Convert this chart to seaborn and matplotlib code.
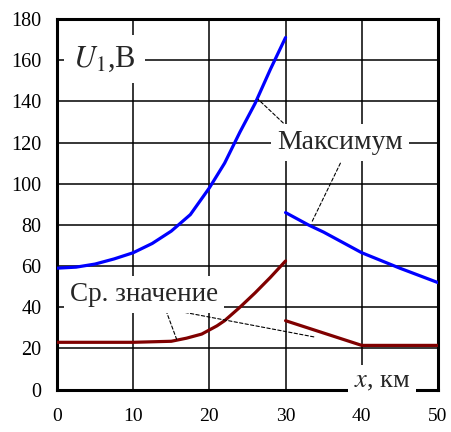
import matplotlib
matplotlib.use("Agg")
import pandas as pd
import seaborn as sns
import matplotlib.pyplot as plt

# Maximum voltage along the line (two sections, break at 30 km)
max_x1 = [0, 2.5, 5, 7.5, 10, 12.5, 15, 17.5, 20, 22, 24, 26, 28, 30]
max_y1 = [59, 59.5, 61, 63.5, 66.5, 71, 77, 85, 98, 110, 125, 139, 155.5, 171]
max_x2 = [30, 33, 35, 40, 45, 50]
max_y2 = [86, 80, 76.5, 66.5, 59, 52]

# Mean voltage along the line
mean_x1 = [0, 5, 10, 15, 17, 19, 20, 21, 22, 24, 26, 28, 30]
mean_y1 = [23, 23, 23, 23.5, 25, 27, 29, 31, 33.5, 40, 47, 54.5, 62.5]
mean_x2 = [30, 35, 40, 45, 50]
mean_y2 = [33.5, 27.5, 21.5, 21.5, 21.5]

x_ticks = [0, 10, 20, 30, 40, 50]
y_ticks = [0, 20, 40, 60, 80, 100, 120, 140, 160, 180]

# one long table for seaborn
parts = []
for curve, seg, xs, ys in [
    ("max", "max1", max_x1, max_y1),
    ("max", "max2", max_x2, max_y2),
    ("mean", "mean1", mean_x1, mean_y1),
    ("mean", "mean2", mean_x2, mean_y2),
]:
    parts.append(pd.DataFrame({"x": xs, "y": ys, "curve": curve, "seg": seg}))
df = pd.concat(parts, ignore_index=True)

sns.set_style("white")
plt.rcParams["font.family"] = ["Liberation Serif", "DejaVu Serif"]
plt.rcParams["mathtext.fontset"] = "stix"

fig = plt.figure(figsize=(4.51, 4.32), dpi=100)
ax = fig.add_axes([0.1264, 0.098, 0.8446, 0.858])

sns.lineplot(
    data=df, x="x", y="y", hue="curve", units="seg", estimator=None,
    palette={"max": "#0000ff", "mean": "#800000"}, linewidth=2.3,
    legend=False, ax=ax, zorder=3, sort=False,
)

ax.set_xlim(0, 50)
ax.set_ylim(0, 180)
ax.set_xticks(x_ticks)
ax.set_yticks(y_ticks)
ax.set_xlabel("")
ax.set_ylabel("")
ax.grid(True, color="black", linewidth=1.1)
ax.set_axisbelow(True)
ax.tick_params(axis="both", length=0, labelsize=14.5, colors="black")
ax.tick_params(axis="x", pad=13, labelsize=14)
ax.tick_params(axis="y", pad=11)
for s in ax.spines.values():
    s.set_visible(True)
    s.set_color("black")
    s.set_linewidth(2.2)

box = dict(boxstyle="square,pad=0.22", fc="white", ec="none")
lead = dict(arrowstyle="-", color="black", lw=0.8, linestyle=(0, (3, 2)),
            shrinkA=0, shrinkB=0)

# text labels with white boxes over the grid
ax.text(6.2, 160.5, "$U_1$,В", fontsize=22, ha="center", va="center",
        bbox=dict(boxstyle="square,pad=0.3", fc="white", ec="none"), zorder=10)
ax.text(37.1, 120, "Максимум", fontsize=20, ha="center", va="center",
        bbox=box, zorder=10)
ax.text(11.4, 46, "Ср. значение", fontsize=19.5, ha="center", va="center",
        bbox=box, zorder=10)
ax.text(42.7, 3.8, "$x$, км", fontsize=19, ha="center", va="center",
        bbox=box, zorder=10, clip_on=False)

# dashed leader lines
ax.annotate("", xy=(26.4, 141), xytext=(29.7, 129.5), arrowprops=lead)
ax.annotate("", xy=(33.4, 81), xytext=(37.2, 110), arrowprops=lead)
ax.annotate("", xy=(15.7, 24.5), xytext=(14.3, 38.5), arrowprops=lead)
ax.annotate("", xy=(33.9, 25.5), xytext=(16.8, 37.5), arrowprops=lead)

fig.savefig("out.png", dpi=100, facecolor="white")
